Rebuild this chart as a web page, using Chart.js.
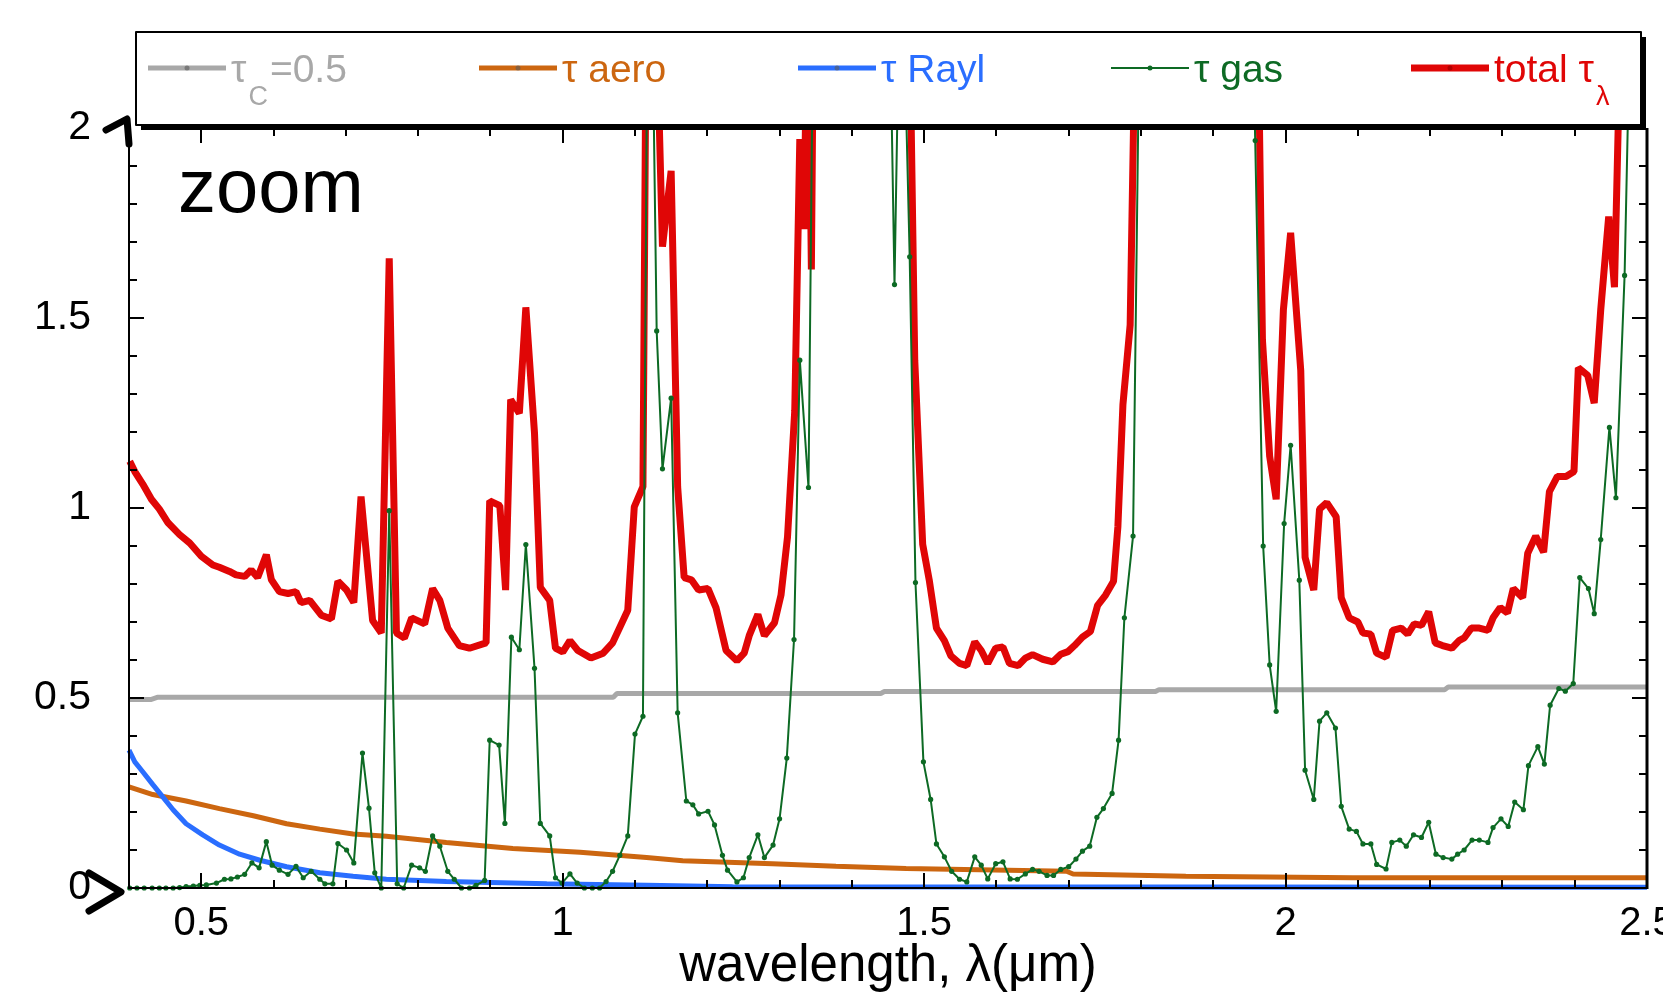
<!DOCTYPE html>
<html>
<head>
<meta charset="utf-8">
<title>Optical depth components, zoom</title>
<script src="https://cdn.jsdelivr.net/npm/chart.js@4.4.1/dist/chart.umd.min.js"></script>
<style>
  html, body { margin: 0; padding: 0; background: #fff; }
  #tau-chart { display: block; }
</style>
</head>
<body>
<canvas id="tau-chart" width="1663" height="1000"></canvas>
<script>
// Cloud optical depth (nominal 0.5), steps slightly with wavelength
const cloudLambda = [0.40, 0.43, 0.44, 1.07, 1.075, 1.44, 1.445, 1.82, 1.825, 2.22, 2.225, 2.50];
const cloudTau = [0.496, 0.496, 0.502, 0.502, 0.512, 0.512, 0.517, 0.517, 0.522, 0.522, 0.529, 0.529];

// Aerosol optical depth
const aeroLambda = [0.40, 0.433, 0.479, 0.525, 0.572, 0.618, 0.664, 0.710, 0.756, 0.839, 0.931, 1.024,
  1.116, 1.166, 1.290, 1.378, 1.475, 1.697, 1.706, 1.862, 2.093, 2.50];
const aeroTau = [0.266, 0.246, 0.229, 0.209, 0.190, 0.169, 0.155, 0.142, 0.136, 0.120, 0.104, 0.094,
  0.080, 0.072, 0.064, 0.057, 0.051, 0.044, 0.037, 0.031, 0.027, 0.027];

// Rayleigh optical depth
const raylLambda = [0.40, 0.408, 0.419, 0.433, 0.447, 0.461, 0.479, 0.502, 0.525, 0.553, 0.581, 0.618,
  0.664, 0.710, 0.756, 0.839, 0.978, 1.116, 1.235, 2.50];
const raylTau = [0.363, 0.332, 0.306, 0.272, 0.239, 0.206, 0.169, 0.140, 0.113, 0.089, 0.073, 0.056,
  0.040, 0.031, 0.023, 0.017, 0.011, 0.007, 0.003, 0.002];

// Gas absorption optical depth
const gasLambda = [
  0.401, 0.411, 0.421, 0.432, 0.442, 0.451, 0.461, 0.470, 0.479, 0.489, 0.498, 0.507,
  0.521, 0.532, 0.541, 0.550, 0.560, 0.570, 0.580, 0.590, 0.598, 0.608, 0.620, 0.631,
  0.641, 0.652, 0.664, 0.671, 0.682, 0.689, 0.701, 0.711, 0.723, 0.732, 0.740, 0.749,
  0.760, 0.771, 0.780, 0.791, 0.802, 0.810, 0.820, 0.830, 0.841, 0.850, 0.860, 0.871,
  0.880, 0.892, 0.899, 0.912, 0.920, 0.929, 0.940, 0.949, 0.961, 0.969, 0.982, 0.990,
  0.999, 1.010, 1.020, 1.030, 1.041, 1.051, 1.060, 1.069, 1.079, 1.090, 1.100, 1.111,
  1.118, 1.124, 1.130, 1.138, 1.150, 1.159, 1.171, 1.180, 1.188, 1.201, 1.210, 1.221,
  1.228, 1.241, 1.250, 1.258, 1.270, 1.279, 1.291, 1.300, 1.310, 1.320, 1.328, 1.340,
  1.350, 1.400, 1.450, 1.459, 1.468, 1.480, 1.488, 1.499, 1.509, 1.517, 1.528, 1.538,
  1.549, 1.559, 1.570, 1.579, 1.588, 1.599, 1.609, 1.619, 1.629, 1.640, 1.650, 1.659,
  1.670, 1.679, 1.689, 1.700, 1.710, 1.719, 1.729, 1.739, 1.748, 1.760, 1.769, 1.777,
  1.789, 1.800, 1.850, 1.900, 1.950, 1.958, 1.969, 1.978, 1.987, 1.998, 2.007, 2.019,
  2.027, 2.039, 2.047, 2.057, 2.069, 2.077, 2.088, 2.098, 2.107, 2.118, 2.126, 2.139,
  2.147, 2.158, 2.167, 2.177, 2.188, 2.198, 2.208, 2.218, 2.230, 2.238, 2.247, 2.258,
  2.268, 2.280, 2.287, 2.298, 2.308, 2.317, 2.329, 2.336, 2.349, 2.358, 2.366, 2.378,
  2.387, 2.398, 2.407, 2.419, 2.427, 2.436, 2.448, 2.457, 2.469, 2.480, 2.490
];
const gasTau = [
  0.000, 0.000, 0.000, 0.000, 0.000, 0.000, 0.000, 0.001, 0.004, 0.005, 0.007, 0.008,
  0.013, 0.023, 0.024, 0.029, 0.036, 0.066, 0.053, 0.122, 0.060, 0.047, 0.036, 0.057,
  0.027, 0.044, 0.023, 0.011, 0.011, 0.117, 0.100, 0.066, 0.355, 0.210, 0.040, 0.000,
  0.993, 0.011, 0.000, 0.060, 0.053, 0.044, 0.137, 0.110, 0.044, 0.023, 0.000, 0.000,
  0.007, 0.020, 0.389, 0.376, 0.170, 0.660, 0.627, 0.904, 0.578, 0.170, 0.137, 0.027,
  0.013, 0.037, 0.013, 0.000, 0.000, 0.000, 0.017, 0.044, 0.086, 0.137, 0.405, 0.452,
  2.600, 2.300, 1.466, 1.103, 1.289, 0.461, 0.229, 0.219, 0.195, 0.202, 0.166, 0.086,
  0.047, 0.016, 0.027, 0.080, 0.140, 0.080, 0.113, 0.182, 0.342, 0.654, 1.389, 1.054,
  3.000, 4.000, 2.600, 1.588, 2.600, 1.661, 0.804, 0.332, 0.233, 0.116, 0.082, 0.044,
  0.023, 0.016, 0.082, 0.060, 0.024, 0.064, 0.069, 0.024, 0.023, 0.037, 0.049, 0.044,
  0.033, 0.033, 0.049, 0.056, 0.076, 0.097, 0.110, 0.186, 0.209, 0.249, 0.389, 0.711,
  0.926, 2.600, 4.000, 4.000, 2.600, 1.967, 0.900, 0.587, 0.465, 0.959, 1.165, 0.810,
  0.310, 0.233, 0.439, 0.461, 0.421, 0.215, 0.155, 0.149, 0.116, 0.116, 0.062, 0.050,
  0.120, 0.126, 0.110, 0.140, 0.133, 0.173, 0.089, 0.080, 0.076, 0.089, 0.100, 0.126,
  0.126, 0.120, 0.159, 0.182, 0.162, 0.226, 0.206, 0.322, 0.372, 0.326, 0.481, 0.525,
  0.518, 0.538, 0.817, 0.788, 0.722, 0.917, 1.212, 1.027, 1.612, 2.600, 3.000
];

// Total optical depth
const totalLambda = [
  0.401, 0.408, 0.419, 0.431, 0.442, 0.454, 0.470, 0.484, 0.500, 0.516, 0.525, 0.539,
  0.548, 0.560, 0.569, 0.578, 0.590, 0.597, 0.608, 0.620, 0.631, 0.638, 0.650, 0.666,
  0.680, 0.689, 0.701, 0.711, 0.721, 0.737, 0.749, 0.760, 0.770, 0.781, 0.791, 0.809,
  0.820, 0.830, 0.841, 0.857, 0.871, 0.894, 0.899, 0.913, 0.921, 0.928, 0.940, 0.949,
  0.961, 0.969, 0.982, 0.990, 1.000, 1.010, 1.021, 1.039, 1.056, 1.069, 1.090, 1.099,
  1.111, 1.118, 1.125, 1.131, 1.138, 1.150, 1.159, 1.168, 1.178, 1.188, 1.201, 1.212,
  1.226, 1.241, 1.251, 1.258, 1.270, 1.279, 1.293, 1.302, 1.311, 1.321, 1.328, 1.334,
  1.339, 1.344, 1.352, 1.400, 1.468, 1.480, 1.487, 1.498, 1.507, 1.517, 1.528, 1.537,
  1.549, 1.559, 1.570, 1.579, 1.588, 1.599, 1.609, 1.618, 1.630, 1.640, 1.650, 1.664,
  1.678, 1.689, 1.699, 1.708, 1.719, 1.730, 1.740, 1.751, 1.762, 1.768, 1.775, 1.785,
  1.795, 1.850, 1.950, 1.961, 1.968, 1.978, 1.987, 1.997, 2.007, 2.021, 2.027, 2.039,
  2.047, 2.057, 2.070, 2.077, 2.088, 2.100, 2.107, 2.118, 2.126, 2.139, 2.148, 2.160,
  2.169, 2.178, 2.188, 2.198, 2.207, 2.217, 2.230, 2.240, 2.247, 2.257, 2.268, 2.280,
  2.287, 2.297, 2.307, 2.315, 2.328, 2.335, 2.346, 2.357, 2.365, 2.376, 2.388, 2.399,
  2.405, 2.418, 2.427, 2.436, 2.447, 2.455, 2.465, 2.480, 2.500
];
const totalTau = [
  1.123, 1.096, 1.063, 1.023, 0.997, 0.961, 0.930, 0.908, 0.873, 0.850, 0.844, 0.833,
  0.824, 0.820, 0.837, 0.817, 0.877, 0.811, 0.780, 0.775, 0.780, 0.751, 0.757, 0.718,
  0.708, 0.807, 0.784, 0.751, 1.030, 0.704, 0.671, 1.657, 0.671, 0.658, 0.711, 0.695,
  0.788, 0.757, 0.684, 0.638, 0.631, 0.645, 1.019, 1.006, 0.784, 1.285, 1.249, 1.528,
  1.196, 0.791, 0.757, 0.631, 0.621, 0.651, 0.625, 0.605, 0.618, 0.645, 0.731, 1.003,
  1.056, 3.000, 2.600, 2.200, 1.688, 1.887, 1.056, 0.817, 0.811, 0.784, 0.788, 0.738,
  0.625, 0.598, 0.618, 0.664, 0.720, 0.664, 0.698, 0.771, 0.924, 1.256, 1.971, 1.734,
  2.500, 1.628, 3.500, 4.000, 3.000, 2.270, 1.389, 0.904, 0.811, 0.684, 0.651, 0.611,
  0.591, 0.585, 0.648, 0.625, 0.591, 0.631, 0.634, 0.591, 0.585, 0.605, 0.614, 0.602,
  0.595, 0.615, 0.622, 0.638, 0.660, 0.675, 0.744, 0.771, 0.807, 0.950, 1.272, 1.482,
  2.600, 4.000, 3.000, 2.400, 1.442, 1.136, 1.023, 1.522, 1.724, 1.362, 0.870, 0.784,
  0.997, 1.014, 0.977, 0.764, 0.711, 0.700, 0.671, 0.668, 0.618, 0.607, 0.678, 0.684,
  0.668, 0.695, 0.691, 0.727, 0.645, 0.638, 0.631, 0.651, 0.658, 0.684, 0.684, 0.678,
  0.711, 0.738, 0.724, 0.788, 0.764, 0.881, 0.926, 0.884, 1.043, 1.083, 1.083, 1.096,
  1.369, 1.349, 1.276, 1.522, 1.767, 1.581, 2.400, 3.000, 3.500
];

// Axis ticks that carry labels
const xTickValues = [0.5, 1, 1.5, 2, 2.5];
const yTickValues = [0, 0.5, 1, 1.5, 2];

const canvas = document.getElementById('tau-chart');

/**
 * Pairs a wavelength list with a value list into {x, y} points.
 */
function toPoints(xs, ys) {
  return xs.map((x, i) => ({ x, y: ys[i] }));
}

// Series styling, with the legend pieces for each one (main text, subscript, trailing text)
const series = [
  { key: 'cloud', color: '#a8a8a8', width: 5, dot: 0, xs: cloudLambda, ys: cloudTau,
    label: ['\u03c4', 'C', '=0.5'], legendX: 148 },
  { key: 'aero', color: '#cc6610', width: 5, dot: 0, xs: aeroLambda, ys: aeroTau,
    label: ['\u03c4 aero', '', ''], legendX: 479 },
  { key: 'rayl', color: '#2a6eff', width: 5, dot: 0, xs: raylLambda, ys: raylTau,
    label: ['\u03c4 Rayl', '', ''], legendX: 798 },
  { key: 'gas', color: '#0d6a24', width: 2, dot: 2.6, xs: gasLambda, ys: gasTau,
    label: ['\u03c4 gas', '', ''], legendX: 1111 },
  { key: 'total', color: '#e00606', width: 7, dot: 0, xs: totalLambda, ys: totalTau,
    label: ['total \u03c4', '\u03bb', ''], legendX: 1411 },
];

// Draw order: gas on top, total underneath everything
const drawOrder = { gas: 0, rayl: 1, aero: 2, cloud: 3, total: 4 };

const datasets = series.map(s => ({
  label: s.key,
  data: toPoints(s.xs, s.ys),
  borderColor: s.color,
  backgroundColor: s.color,
  borderWidth: s.width,
  borderJoinStyle: 'bevel',
  pointRadius: s.dot,
  pointBorderWidth: 0,
  pointBackgroundColor: s.color,
  tension: 0,
  order: drawOrder[s.key],
  clip: { left: 6, right: 6, top: 0, bottom: 6 },
}));

const FONT = '"Liberation Sans", Arial, Helvetica, sans-serif';

// Frame with inward ticks on all four sides, axis-break marks, the boxed legend and the "zoom" tag
const frameDecor = {
  id: 'frameDecor',
  afterDraw(chart) {
    const { ctx, chartArea: a, scales: { x, y } } = chart;
    ctx.save();
    ctx.strokeStyle = '#000';
    ctx.fillStyle = '#000';

    // axis lines
    ctx.lineWidth = 2;
    ctx.beginPath();
    ctx.moveTo(a.left, a.top);
    ctx.lineTo(a.left, a.bottom);
    ctx.lineTo(a.right, a.bottom);
    ctx.stroke();
    ctx.lineWidth = 3;
    ctx.beginPath();
    ctx.moveTo(a.right, a.top);
    ctx.lineTo(a.right, a.bottom + 1);
    ctx.stroke();

    // ticks every 0.1, longer on the labelled ones
    ctx.lineWidth = 2;
    ctx.beginPath();
    for (let i = 5; i <= 24; i++) {
      const px = Math.round(x.getPixelForValue(i / 10));
      const len = i % 5 === 0 ? 15 : 8;
      ctx.moveTo(px, a.bottom);
      ctx.lineTo(px, a.bottom - len);
      ctx.moveTo(px, a.top);
      ctx.lineTo(px, a.top + len);
    }
    for (let i = 1; i <= 19; i++) {
      const py = Math.round(y.getPixelForValue(i / 10));
      const len = i % 5 === 0 ? 15 : 8;
      ctx.moveTo(a.left, py);
      ctx.lineTo(a.left + len, py);
      ctx.moveTo(a.right, py);
      ctx.lineTo(a.right - len, py);
    }
    ctx.stroke();

    // axis-break marks at both ends of the y axis
    ctx.lineWidth = 7;
    ctx.lineCap = 'round';
    ctx.lineJoin = 'round';
    ctx.beginPath();
    ctx.moveTo(a.left - 23, a.top + 2);
    ctx.lineTo(a.left - 2, a.top - 9);
    ctx.lineTo(a.left, a.top + 16);
    ctx.stroke();
    ctx.beginPath();
    ctx.moveTo(a.left - 40, a.bottom - 15);
    ctx.lineTo(a.left - 8, a.bottom + 4);
    ctx.lineTo(a.left - 40, a.bottom + 23);
    ctx.stroke();

    // legend box with drop shadow
    const box = { x: 136, y: 32, w: 1505, h: 93 };
    ctx.fillRect(box.x + 5, box.y + 5, box.w, box.h);
    ctx.fillStyle = '#fff';
    ctx.fillRect(box.x, box.y, box.w, box.h);
    ctx.lineWidth = 2;
    ctx.lineCap = 'butt';
    ctx.strokeRect(box.x, box.y, box.w, box.h);

    const midY = 68;
    series.forEach(s => {
      const x0 = s.legendX;
      const x1 = x0 + 78;
      ctx.strokeStyle = s.color;
      ctx.lineWidth = s.key === 'gas' ? 2 : s.key === 'total' ? 7 : 5;
      ctx.beginPath();
      ctx.moveTo(x0, midY);
      ctx.lineTo(x1, midY);
      ctx.stroke();
      ctx.fillStyle = s.key === 'gas' ? '#0d6a24' : s.key === 'total' ? '#b30000' : 'rgba(90,90,90,0.6)';
      ctx.beginPath();
      ctx.arc((x0 + x1) / 2, midY, 2.5, 0, Math.PI * 2);
      ctx.fill();

      const [main, sub, tail] = s.label;
      ctx.fillStyle = s.color;
      ctx.textBaseline = 'alphabetic';
      ctx.textAlign = 'left';
      ctx.font = '39px ' + FONT;
      let tx = x1 + 5;
      ctx.fillText(main, tx, 82);
      tx += ctx.measureText(main).width + 2;
      if (sub) {
        ctx.font = '27px ' + FONT;
        ctx.fillText(sub, tx, 105);
        tx += ctx.measureText(sub).width + 2;
      }
      if (tail) {
        ctx.font = '39px ' + FONT;
        ctx.fillText(tail, tx, 82);
      }
    });

    // panel tag
    ctx.fillStyle = '#000';
    ctx.font = '76px ' + FONT;
    ctx.textAlign = 'left';
    ctx.textBaseline = 'alphabetic';
    ctx.fillText('zoom', 178, 212);

    ctx.restore();
  }
};

new Chart(canvas, {
  type: 'line',
  data: { datasets },
  options: {
    responsive: false,
    animation: false,
    events: [],
    layout: { padding: { top: 128, right: 16, left: 0, bottom: 0 } },
    plugins: {
      legend: { display: false },
      tooltip: { enabled: false },
    },
    scales: {
      x: {
        type: 'linear',
        min: 0.4,
        max: 2.5,
        grid: { display: false, drawTicks: false },
        border: { display: false },
        afterBuildTicks: scale => { scale.ticks = xTickValues.map(value => ({ value })); },
        afterFit: scale => {
          scale.height = 112;
          scale.paddingLeft = 0;
          scale.paddingRight = 0;
        },
        ticks: {
          color: '#000',
          padding: 12,
          maxRotation: 0,
          autoSkip: false,
          font: { family: FONT, size: 40 },
          callback: value => String(value),
        },
        title: {
          display: true,
          text: 'wavelength, \u03bb(\u03bcm)',
          color: '#000',
          font: { family: FONT, size: 51 },
          padding: { top: 0, bottom: 2 },
        },
      },
      y: {
        type: 'linear',
        min: 0,
        max: 2,
        grid: { display: false, drawTicks: false },
        border: { display: false },
        afterBuildTicks: scale => { scale.ticks = yTickValues.map(value => ({ value })); },
        afterFit: scale => {
          scale.width = 129;
          scale.paddingTop = 0;
          scale.paddingBottom = 0;
        },
        ticks: {
          color: '#000',
          padding: 38,
          font: { family: FONT, size: 41 },
          callback: value => String(value),
        },
      },
    },
  },
  plugins: [frameDecor],
});
</script>
</body>
</html>
